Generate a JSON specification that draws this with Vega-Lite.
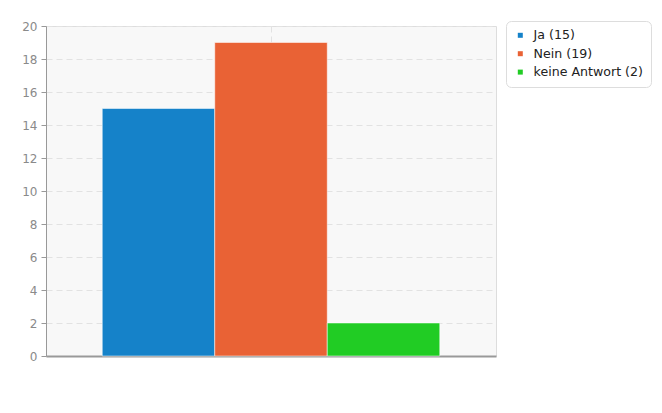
{
  "$schema": "https://vega.github.io/schema/vega-lite/v6.json",
  "width": 450,
  "height": 330,
  "autosize": {"type": "none"},
  "padding": {"left": 46, "top": 26, "right": 166, "bottom": 57},
  "background": "white",
  "data": {
    "values": [
      {"group": "", "answer": "Ja (15)", "count": 15},
      {"group": "", "answer": "Nein (19)", "count": 19},
      {"group": "", "answer": "keine Antwort (2)", "count": 2}
    ]
  },
  "mark": {"type": "bar", "stroke": "white", "strokeWidth": 1, "strokeOpacity": 0.5},
  "encoding": {
    "x": {
      "field": "group",
      "type": "nominal",
      "scale": {"paddingInner": 0, "paddingOuter": 0},
      "axis": {
        "title": null,
        "labels": false,
        "ticks": false,
        "grid": true,
        "bandPosition": 0.5,
        "gridColor": "#e2e2e2",
        "gridDash": [6, 4],
        "domainColor": "#999999",
        "domainWidth": 2
      }
    },
    "xOffset": {
      "field": "answer",
      "type": "nominal",
      "sort": ["Ja (15)", "Nein (19)", "keine Antwort (2)"],
      "scale": {"paddingInner": 0, "paddingOuter": 0.5}
    },
    "y": {
      "field": "count",
      "type": "quantitative",
      "scale": {"domain": [0, 20]},
      "axis": {
        "title": null,
        "values": [0, 2, 4, 6, 8, 10, 12, 14, 16, 18, 20],
        "grid": true,
        "gridColor": "#e2e2e2",
        "gridDash": [6, 4],
        "domainColor": "#999999",
        "tickColor": "#999999",
        "tickSize": 5,
        "labelPadding": 4,
        "labelColor": "#8a8a8a",
        "labelFont": "DejaVu Sans",
        "labelFontSize": 12
      }
    },
    "color": {
      "field": "answer",
      "type": "nominal",
      "sort": ["Ja (15)", "Nein (19)", "keine Antwort (2)"],
      "scale": {"range": ["#1582c9", "#e96235", "#21cc24"]},
      "legend": {
        "title": null,
        "orient": "none",
        "legendX": 460,
        "legendY": -5,
        "symbolType": "square",
        "symbolSize": 25,
        "symbolStrokeWidth": 0,
        "labelFont": "DejaVu Sans",
        "labelFontSize": 12.6,
        "labelColor": "#222222",
        "labelOffset": 7,
        "rowPadding": 5.4,
        "padding": 8,
        "strokeColor": "#dddddd",
        "fillColor": "white",
        "cornerRadius": 5
      }
    }
  },
  "config": {
    "view": {"fill": "#f8f8f8", "stroke": "#dddddd", "strokeWidth": 1}
  }
}
